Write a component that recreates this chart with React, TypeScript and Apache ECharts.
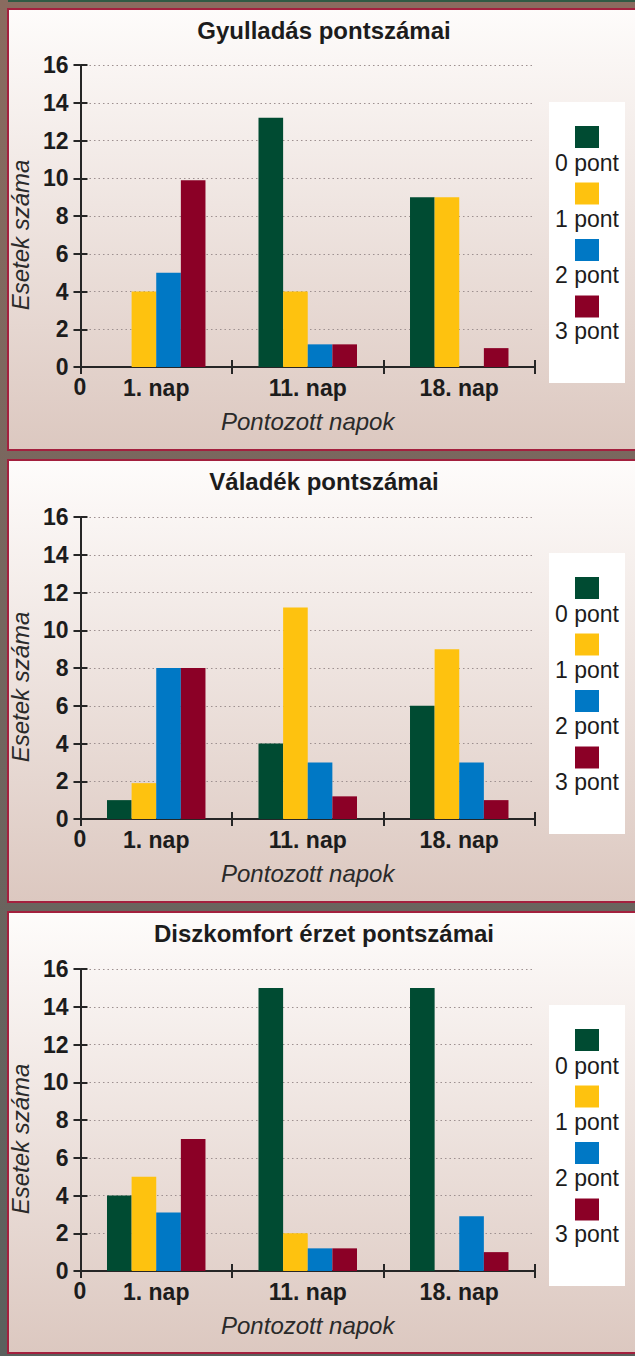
import React, { useEffect, useRef } from "react";
import * as echarts from "echarts";

// ---- data ----
const CATEGORIES = ["1. nap", "11. nap", "18. nap"];
const SERIES_NAMES = ["0 pont", "1 pont", "2 pont", "3 pont"];
const SERIES_COLORS = ["#004b32", "#fec20f", "#0078c5", "#8b0026"];
const TITLES = ["Gyulladás pontszámai", "Váladék pontszámai", "Diszkomfort érzet pontszámai"];
const X_NAME = "Pontozott napok";
const Y_NAME = "Esetek száma";
const ORIGIN_LABEL = "0";
const Y_MIN = 0;
const Y_MAX = 16;
const Y_STEP = 2;

// Gyulladás pontszámai
const GYULLADAS_0 = [0, 13.2, 9];
const GYULLADAS_1 = [4, 4, 9];
const GYULLADAS_2 = [5, 1.2, 0];
const GYULLADAS_3 = [9.9, 1.2, 1];

// Váladék pontszámai
const VALADEK_0 = [1, 4, 6];
const VALADEK_1 = [1.9, 11.2, 9];
const VALADEK_2 = [8, 3, 3];
const VALADEK_3 = [8, 1.2, 1];

// Diszkomfort érzet pontszámai
const DISZKOMFORT_0 = [4, 15, 15];
const DISZKOMFORT_1 = [5, 2, 0];
const DISZKOMFORT_2 = [3.1, 1.2, 2.9];
const DISZKOMFORT_3 = [7, 1.2, 1];

const PANEL_DATA = [
  [GYULLADAS_0, GYULLADAS_1, GYULLADAS_2, GYULLADAS_3],
  [VALADEK_0, VALADEK_1, VALADEK_2, VALADEK_3],
  [DISZKOMFORT_0, DISZKOMFORT_1, DISZKOMFORT_2, DISZKOMFORT_3],
];

// ---- layout ----
const W = 635;
const H = 1356;
const PANEL_TOPS = [9, 460, 912];
const PANEL_HEIGHTS = [441, 442, 441];
const GRID_TOPS = [65, 517, 969];
const GRID_LEFT = 80;
const GRID_W = 455;
const GRID_H = 302;
const FONT = "'Liberation Sans', Arial, Helvetica, sans-serif";
const AXIS_COLOR = "#262626";
const TEXT_COLOR = "#1c1c1c";

function buildOption() {
  const grids: any[] = [];
  const xAxes: any[] = [];
  const yAxes: any[] = [];
  const series: any[] = [];
  const graphics: any[] = [];

  graphics.push({
    type: "rect",
    z: -30,
    silent: true,
    shape: { x: 0, y: 0, width: W, height: H },
    style: {
      fill: new echarts.graphic.LinearGradient(0, 0, 0, 1, [
        { offset: 0, color: "#8a6b5f" },
        { offset: 1, color: "#5a605d" },
      ]),
    },
  });
  graphics.push({
    type: "rect",
    z: -29,
    silent: true,
    shape: { x: 8, y: 0, width: W, height: 2 },
    style: { fill: "#2f5a44" },
  });

  const lineStyle = { color: AXIS_COLOR, width: 2 };

  PANEL_DATA.forEach((panel, i) => {
    const top = PANEL_TOPS[i];
    const gTop = GRID_TOPS[i];

    graphics.push({
      type: "rect",
      z: -20,
      silent: true,
      shape: { x: 8, y: top, width: W + 10, height: PANEL_HEIGHTS[i] },
      style: {
        fill: new echarts.graphic.LinearGradient(0, 0, 0, 1, [
          { offset: 0, color: "#fefcfb" },
          { offset: 1, color: "#dcc8c0" },
        ]),
        stroke: "#a3203e",
        lineWidth: 2,
      },
    });

    graphics.push({
      type: "text",
      z: 10,
      x: 324,
      y: top + 21,
      style: {
        text: TITLES[i],
        fontSize: 24,
        fontWeight: "bold",
        fontFamily: FONT,
        fill: TEXT_COLOR,
        align: "center",
        verticalAlign: "middle",
        textAlign: "center",
        textVerticalAlign: "middle",
      },
    });

    // origin "0" label under the axes crossing
    graphics.push({
      type: "text",
      z: 10,
      x: GRID_LEFT,
      y: gTop + GRID_H + 20,
      style: {
        text: ORIGIN_LABEL,
        fontSize: 23,
        fontWeight: "bold",
        fontFamily: FONT,
        fill: TEXT_COLOR,
        align: "center",
        verticalAlign: "middle",
        textAlign: "center",
        textVerticalAlign: "middle",
      },
    });

    // legend box
    graphics.push({
      type: "rect",
      z: 5,
      silent: true,
      shape: { x: 549, y: top + 93, width: 76, height: 281 },
      style: { fill: "#ffffff" },
    });
    SERIES_NAMES.forEach((name, j) => {
      graphics.push({
        type: "rect",
        z: 6,
        shape: { x: 575, y: top + 117 + j * 56.5, width: 24, height: 22 },
        style: { fill: SERIES_COLORS[j] },
      });
      graphics.push({
        type: "text",
        z: 6,
        x: 587,
        y: top + 154 + j * 56,
        style: {
          text: name,
          fontSize: 23,
          fontFamily: FONT,
          fill: TEXT_COLOR,
          align: "center",
          verticalAlign: "middle",
          textAlign: "center",
          textVerticalAlign: "middle",
        },
      });
    });

    grids.push({ left: GRID_LEFT, top: gTop, width: GRID_W, height: GRID_H, containLabel: false });

    xAxes.push({
      gridIndex: i,
      type: "category",
      data: CATEGORIES,
      position: "bottom",
      axisLine: { show: true, lineStyle },
      axisTick: { show: true, length: 7, lineStyle },
      axisLabel: {
        margin: 9,
        fontSize: 23,
        fontWeight: "bold",
        fontFamily: FONT,
        color: TEXT_COLOR,
      },
      splitLine: { show: false },
      name: X_NAME,
      nameLocation: "middle",
      nameGap: 42,
      nameTextStyle: { fontSize: 24, fontStyle: "italic", fontFamily: FONT, color: "#2a2a2a" },
    });
    xAxes.push({
      gridIndex: i,
      type: "category",
      data: CATEGORIES,
      position: "bottom",
      axisLine: { show: false },
      axisTick: { show: true, inside: true, length: 7, lineStyle },
      axisLabel: { show: false },
      splitLine: { show: false },
    });

    yAxes.push({
      gridIndex: i,
      type: "value",
      min: Y_MIN,
      max: Y_MAX,
      interval: Y_STEP,
      position: "left",
      axisLine: { show: true, lineStyle },
      axisTick: { show: true, length: 7, lineStyle },
      axisLabel: {
        margin: 12,
        fontSize: 23,
        fontWeight: "bold",
        fontFamily: FONT,
        color: TEXT_COLOR,
      },
      splitLine: { show: true, lineStyle: { type: [1.5, 3], color: "#9d9090", width: 1.2 } },
      name: Y_NAME,
      nameLocation: "middle",
      nameGap: 38,
      nameRotate: 90,
      nameTextStyle: {
        fontSize: 24,
        fontStyle: "italic",
        fontFamily: FONT,
        color: "#2a2a2a",
        padding: [0, 38, 0, 0],
      },
    });
    yAxes.push({
      gridIndex: i,
      type: "value",
      min: Y_MIN,
      max: Y_MAX,
      interval: Y_STEP,
      position: "left",
      axisLine: { show: false },
      axisTick: { show: true, inside: true, length: 7, lineStyle },
      axisLabel: { show: false },
      splitLine: { show: false },
    });

    panel.forEach((values, j) => {
      series.push({
        type: "bar",
        name: SERIES_NAMES[j],
        xAxisIndex: 2 * i,
        yAxisIndex: 2 * i,
        data: values,
        itemStyle: { color: SERIES_COLORS[j] },
        barGap: "0%",
        barCategoryGap: "35%",
      });
    });
  });

  return {
    animation: false,
    grid: grids,
    xAxis: xAxes,
    yAxis: yAxes,
    series,
    graphic: { elements: graphics },
  };
}

export default function App() {
  const ref = useRef<HTMLDivElement>(null);
  useEffect(() => {
    document.body.style.margin = "0";
    if (!ref.current) return;
    const chart = echarts.init(ref.current, null, { renderer: "svg" });
    chart.setOption(buildOption() as any);
    return () => chart.dispose();
  }, []);
  return (
    <div
      ref={ref}
      style={{ position: "absolute", left: 0, top: 0, width: W, height: H }}
    />
  );
}
